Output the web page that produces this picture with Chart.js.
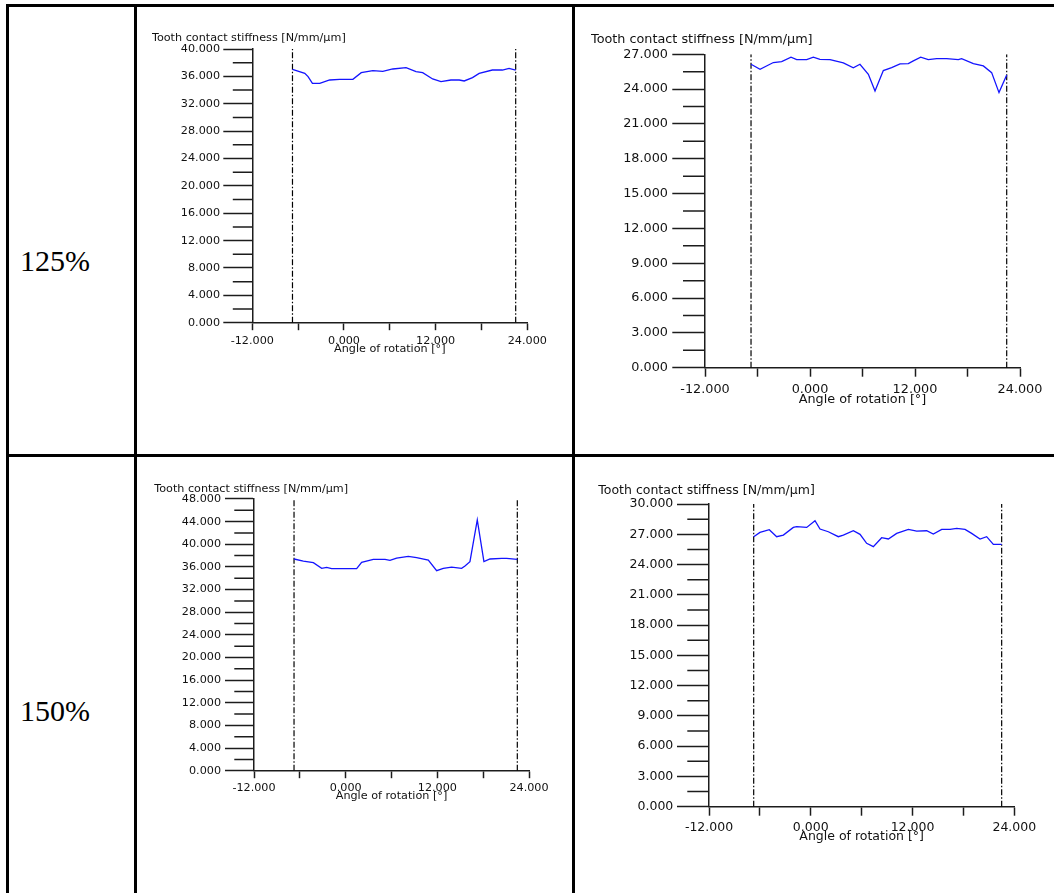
<!DOCTYPE html>
<html>
<head>
<meta charset="utf-8">
<script src="https://cdn.jsdelivr.net/npm/chart.js@4.4.1/dist/chart.umd.min.js"></script>
<style>
  html, body { margin: 0; padding: 0; background: #fff; }
  body { width: 1054px; height: 893px; overflow: hidden; position: relative; }
  .rule { position: absolute; background: #000; }
  .pct { position: absolute; font-family: "Liberation Serif", "Times New Roman", serif; font-size: 30px; line-height: 30px; color: #000; }
  canvas { position: absolute; }
</style>
</head>
<body>
<!-- table frame -->
<div class="rule" style="left:6px;top:4px;width:1048px;height:3px"></div>
<div class="rule" style="left:6px;top:454px;width:1048px;height:3px"></div>
<div class="rule" style="left:6px;top:4px;width:3px;height:889px"></div>
<div class="rule" style="left:134px;top:4px;width:3px;height:889px"></div>
<div class="rule" style="left:572px;top:4px;width:3px;height:889px"></div>
<div class="pct" style="left:20px;top:246px">125%</div>
<div class="pct" style="left:20px;top:696px">150%</div>

<canvas id="c125L"></canvas>
<canvas id="c125R"></canvas>
<canvas id="c150L"></canvas>
<canvas id="c150R"></canvas>

<script>
// ---- data: angle of rotation [°] and tooth contact stiffness [N/mm/µm] ----
const angle125L = [-6.74, -5.13, -4.70, -4.13, -3.17, -1.87, -0.57, 1.17, 2.26, 3.78, 5.09, 6.39, 8.13, 9.43, 10.30, 11.61, 12.70, 14.00, 15.09, 15.74, 16.83, 17.70, 19.43, 20.74, 21.61, 22.48];
const stiff125L = [37.03, 36.44, 35.96, 34.98, 34.98, 35.47, 35.57, 35.57, 36.54, 36.83, 36.74, 37.08, 37.27, 36.69, 36.54, 35.62, 35.23, 35.47, 35.47, 35.33, 35.81, 36.44, 36.93, 36.93, 37.17, 36.93];

const angle125R = [-6.74, -5.71, -4.19, -3.24, -2.17, -1.52, -0.38, 0.38, 1.14, 2.29, 3.81, 4.95, 5.71, 6.67, 7.43, 8.38, 9.33, 10.29, 11.24, 11.81, 12.65, 13.52, 14.48, 15.62, 16.95, 17.33, 18.67, 19.81, 20.76, 21.60, 22.48];
const stiff125R = [26.14, 25.71, 26.29, 26.37, 26.75, 26.54, 26.54, 26.75, 26.57, 26.54, 26.26, 25.83, 26.14, 25.28, 23.84, 25.60, 25.85, 26.17, 26.20, 26.43, 26.75, 26.54, 26.63, 26.63, 26.54, 26.63, 26.20, 26.00, 25.42, 23.70, 25.22];

const angle150L = [-6.76, -5.54, -4.23, -3.14, -2.49, -1.83, -0.74, 1.44, 2.09, 3.62, 5.15, 5.80, 6.67, 8.20, 9.29, 10.82, 11.91, 12.78, 13.87, 15.18, 15.62, 16.27, 17.23, 18.10, 18.89, 20.42, 21.07, 22.47];
const stiff150L = [37.40, 37.04, 36.75, 35.75, 35.92, 35.69, 35.69, 35.69, 36.81, 37.34, 37.34, 37.16, 37.57, 37.87, 37.63, 37.22, 35.34, 35.75, 35.98, 35.75, 36.16, 36.93, 44.29, 36.93, 37.40, 37.51, 37.51, 37.34];

const angle150R = [-6.73, -5.99, -4.89, -4.02, -3.23, -2.06, -1.66, -0.48, 0.50, 1.09, 2.07, 3.25, 3.84, 5.02, 5.81, 6.59, 7.38, 8.36, 9.15, 10.13, 11.51, 12.49, 13.67, 14.45, 15.44, 16.42, 17.21, 18.19, 18.97, 19.96, 20.74, 21.53, 22.51];
const stiff150R = [26.76, 27.19, 27.45, 26.76, 26.92, 27.68, 27.75, 27.68, 28.35, 27.52, 27.25, 26.76, 26.92, 27.35, 26.99, 26.10, 25.77, 26.66, 26.53, 27.09, 27.49, 27.32, 27.35, 27.02, 27.49, 27.49, 27.58, 27.49, 27.09, 26.53, 26.76, 26.00, 26.00];

// start / end of the contact interval (dash-dot markers)
const contact125L = [-6.74, 22.48];
const contact125R = [-6.74, 22.48];
const contact150L = [-6.76, 22.47];
const contact150R = [-6.73, 22.51];

// labelled tick values
const angleTicks = [-12, 0, 12, 24];
const yTicks125L = [0, 4, 8, 12, 16, 20, 24, 28, 32, 36, 40];
const yTicks125R = [0, 3, 6, 9, 12, 15, 18, 21, 24, 27];
const yTicks150L = [0, 4, 8, 12, 16, 20, 24, 28, 32, 36, 40, 44, 48];
const yTicks150R = [0, 3, 6, 9, 12, 15, 18, 21, 24, 27, 30];

const Y_TITLE = 'Tooth contact stiffness [N/mm/µm]';
const X_TITLE = 'Angle of rotation [°]';
const INK = '#111';
const AXIS = '#1c1c1c';
const AXIS_W = 1.5;
const LINE_BLUE = '#1414ff';
const FONT = '"DejaVu Sans", Verdana, sans-serif';

// majors plus their midpoints; midpoints get an unlabeled mark
function withMidpoints(majors) {
  const out = [];
  majors.forEach((v, i) => {
    out.push({ value: v, major: true });
    if (i < majors.length - 1) out.push({ value: (v + majors[i + 1]) / 2, major: false });
  });
  return out;
}

// short marks for the unlabeled y ticks
const minorYTicks = {
  id: 'minorYTicks',
  afterDraw(chart, args, opts) {
    const s = chart.scales.y;
    const ctx = chart.ctx;
    ctx.save();
    ctx.strokeStyle = AXIS;
    ctx.lineWidth = AXIS_W;
    ctx.beginPath();
    s.ticks.forEach((t) => {
      if (t.major) return;
      const y = s.getPixelForValue(t.value);
      ctx.moveTo(s.right - opts.length, y);
      ctx.lineTo(s.right, y);
    });
    ctx.stroke();
    ctx.restore();
  }
};

function build(id, g, angles, values, contact, yMajors, xMajors) {
  const canvas = document.getElementById(id);
  const lh = g.font * 1.2;
  const cl = Math.floor(g.titleLeft);
  const ct = Math.floor(g.titleY - lh / 2 - 3);
  const cw = Math.ceil(g.plotRight + 32 - cl);
  const xH = g.axisTitleY + lh / 2 - g.plotBottom;
  const ch = Math.ceil(g.plotBottom + xH + 3 - ct);
  canvas.width = cw; canvas.height = ch;
  canvas.style.left = cl + 'px'; canvas.style.top = ct + 'px';
  canvas.style.width = cw + 'px'; canvas.style.height = ch + 'px';

  const yMax = yMajors[yMajors.length - 1];
  const pts = angles.map((a, i) => ({ x: a, y: values[i] }));
  const marker = (x) => ({
    data: [{ x: x, y: 0 }, { x: x, y: yMax }],
    borderColor: '#000', borderWidth: 1.2, borderDash: [6, 2, 1.5, 2],
    pointRadius: 0, fill: false
  });

  new Chart(canvas, {
    type: 'line',
    data: {
      datasets: [
        { data: pts, borderColor: LINE_BLUE, borderWidth: 1.3, pointRadius: 0, tension: 0, fill: false },
        marker(contact[0]),
        marker(contact[1])
      ]
    },
    options: {
      responsive: false,
      animation: false,
      events: [],
      layout: {
        padding: {
          left: g.titleLeft - cl, top: 0,
          right: cl + cw - g.plotRight,
          bottom: ct + ch - g.plotBottom - xH
        }
      },
      plugins: {
        legend: { display: false },
        tooltip: { enabled: false },
        title: {
          display: true, text: Y_TITLE, align: 'start', color: INK,
          font: { family: FONT, size: g.font, weight: 'normal' },
          padding: { top: g.titleY - lh / 2 - ct, bottom: g.plotTop - g.titleY - lh / 2 }
        },
        minorYTicks: { length: g.yMinorLen }
      },
      scales: {
        x: {
          type: 'linear', min: xMajors[0], max: xMajors[xMajors.length - 1],
          afterBuildTicks: (s) => { s.ticks = withMidpoints(xMajors); },
          afterFit: (s) => { s.height = xH; },
          grid: { drawOnChartArea: false, tickLength: g.xTick, tickColor: AXIS, tickWidth: AXIS_W },
          border: { display: true, color: AXIS, width: AXIS_W },
          ticks: {
            autoSkip: false, maxRotation: 0, color: INK,
            padding: g.xLabelY - g.plotBottom - g.xTick - lh / 2,
            font: { family: FONT, size: g.font },
            callback: function (v, i, ticks) { return ticks[i].major ? Number(v).toFixed(3) : ''; }
          },
          title: {
            display: true, text: X_TITLE, color: INK, padding: 0,
            font: { family: FONT, size: g.font }
          }
        },
        y: {
          type: 'linear', min: 0, max: yMax,
          afterBuildTicks: (s) => { s.ticks = withMidpoints(yMajors); },
          afterFit: (s) => { s.width = g.plotLeft - g.titleLeft; },
          grid: {
            drawOnChartArea: false, tickLength: g.yMajorLen, tickWidth: AXIS_W,
            tickColor: (c) => (c.tick && c.tick.major ? AXIS : 'rgba(0,0,0,0)')
          },
          border: { display: true, color: AXIS, width: AXIS_W },
          ticks: {
            autoSkip: false, color: INK,
            padding: g.plotLeft - g.yMajorLen - g.yLabelRight,
            font: { family: FONT, size: g.font },
            callback: function (v, i, ticks) { return ticks[i].major ? Number(v).toFixed(3) : ''; }
          }
        }
      }
    },
    plugins: [minorYTicks]
  });
}

build('c125L', {
  font: 11.2, titleLeft: 152, titleY: 38,
  plotLeft: 252.3, plotRight: 527.3, plotTop: 49, plotBottom: 322.7,
  yMajorLen: 29, yMinorLen: 19.5, yLabelRight: 220,
  xTick: 7.5, xLabelY: 341, axisTitleY: 349
}, angle125L, stiff125L, contact125L, yTicks125L, angleTicks);

build('c125R', {
  font: 12.8, titleLeft: 591, titleY: 40,
  plotLeft: 705, plotRight: 1020, plotTop: 54.3, plotBottom: 367.7,
  yMajorLen: 32.7, yMinorLen: 22, yLabelRight: 668,
  xTick: 9, xLabelY: 390, axisTitleY: 400
}, angle125R, stiff125R, contact125R, yTicks125R, angleTicks);

build('c150L', {
  font: 11.2, titleLeft: 154.3, titleY: 489,
  plotLeft: 254, plotRight: 529, plotTop: 499, plotBottom: 770.7,
  yMajorLen: 29, yMinorLen: 19.7, yLabelRight: 221,
  xTick: 7.5, xLabelY: 787.7, axisTitleY: 795.7
}, angle150L, stiff150L, contact150L, yTicks150L, angleTicks);

build('c150R', {
  font: 12.5, titleLeft: 598.3, titleY: 491,
  plotLeft: 709, plotRight: 1014.3, plotTop: 504, plotBottom: 806.7,
  yMajorLen: 32, yMinorLen: 21.7, yLabelRight: 673.3,
  xTick: 9, xLabelY: 827.3, axisTitleY: 836.7
}, angle150R, stiff150R, contact150R, yTicks150R, angleTicks);
</script>
</body>
</html>
